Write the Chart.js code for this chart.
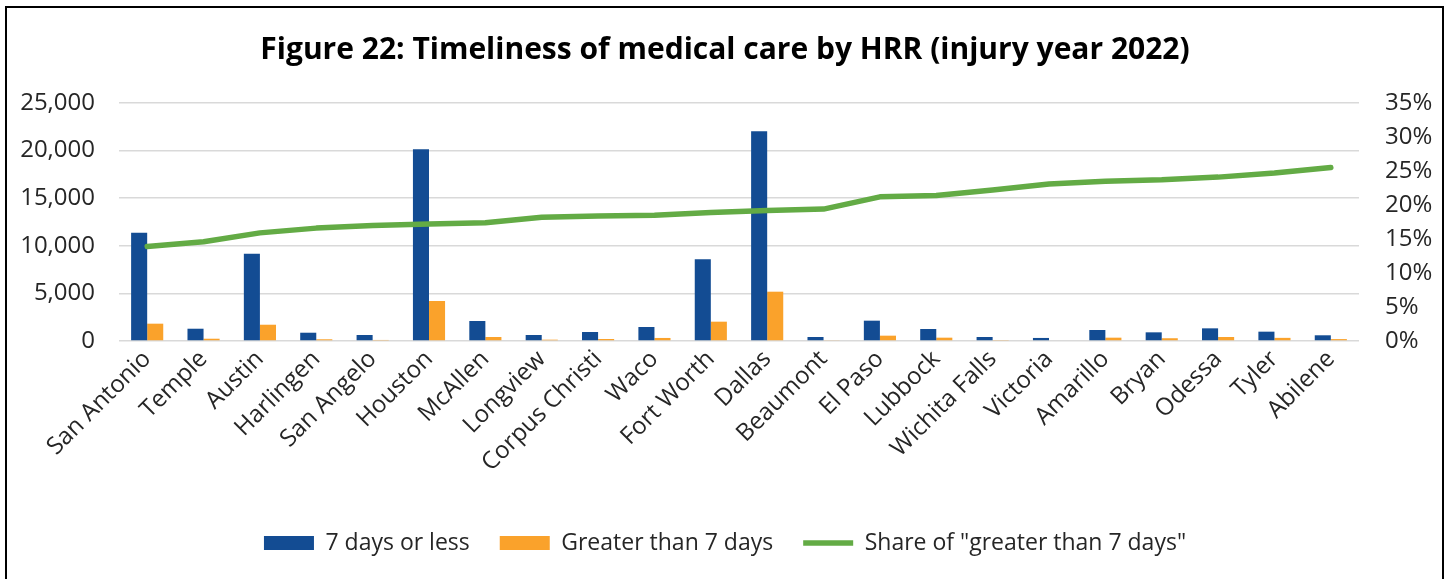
<!DOCTYPE html>
<html>
<head>
<meta charset="utf-8">
<script src="https://cdn.jsdelivr.net/npm/chart.js@4/dist/chart.umd.min.js"></script>
<style>
  html, body { margin: 0; padding: 0; background: #fff; overflow: hidden; }
  #wrap { position: relative; width: 1450px; height: 579px; }
  #frame { position: absolute; left: 5px; top: 6px; width: 1439px; height: 700px; border: 2px solid #000; box-sizing: border-box; pointer-events: none; }
  canvas { position: absolute; left: 0; top: 0; }
</style>
</head>
<body>
<div id="wrap">
  <canvas id="c" width="1450" height="579"></canvas>
  <div id="frame"></div>
</div>
<script>
const categories = ["San Antonio","Temple","Austin","Harlingen","San Angelo","Houston","McAllen","Longview","Corpus Christi","Waco","Fort Worth","Dallas","Beaumont","El Paso","Lubbock","Wichita Falls","Victoria","Amarillo","Bryan","Odessa","Tyler","Abilene"];
const sevenDaysOrLess = [11380,1290,9170,870,630,20130,2100,630,945,1470,8580,22020,420,2135,1260,420,320,1155,910,1330,980,600];
const greaterThan7Days = [1820,240,1710,180,110,4200,420,140,210,320,2030,5180,90,560,350,100,80,350,290,420,330,200];
const shareGreaterThan7 = [0.139,0.146,0.159,0.166,0.170,0.172,0.174,0.182,0.184,0.185,0.189,0.192,0.194,0.212,0.214,0.222,0.231,0.235,0.237,0.241,0.247,0.255];
const leftTicks = [0,5000,10000,15000,20000,25000];
const rightTicks = [0,0.05,0.10,0.15,0.20,0.25,0.30,0.35];

const FONT = "'Open Sans', 'Noto Sans', sans-serif";
const TICK_COLOR = '#262626';

new Chart(document.getElementById('c'), {
  data: {
    labels: categories,
    datasets: [
      { type: 'bar', label: '7 days or less', data: sevenDaysOrLess, backgroundColor: '#134C93', borderWidth: 0, yAxisID: 'y', order: 1,
        categoryPercentage: 0.57, barPercentage: 1.0 },
      { type: 'bar', label: 'Greater than 7 days', data: greaterThan7Days, backgroundColor: '#FAA22B', borderWidth: 0, yAxisID: 'y', order: 1,
        categoryPercentage: 0.57, barPercentage: 1.0 },
      { type: 'line', label: 'Share of "greater than 7 days"', data: shareGreaterThan7, borderColor: '#63AB45', backgroundColor: '#63AB45',
        borderWidth: 5.5, pointRadius: 0, pointHoverRadius: 0, tension: 0, yAxisID: 'y1', order: 0,
        borderCapStyle: 'round', borderJoinStyle: 'round' }
    ]
  },
  options: {
    responsive: false,
    animation: false,
    layout: { padding: { left: 0, right: 0, top: 0, bottom: 14.5 } },
    plugins: {
      tooltip: { enabled: false },
      title: {
        display: true,
        text: 'Figure 22: Timeliness of medical care by HRR (injury year 2022)',
        color: '#000',
        font: { family: FONT, size: 30, weight: 'bold', lineHeight: 1.2 },
        padding: { top: 32, bottom: 35 }
      },
      legend: {
        position: 'bottom',
        labels: {
          color: TICK_COLOR,
          font: { family: FONT, size: 23 },
          usePointStyle: true,
          pointStyleWidth: 50,
          boxHeight: 14,
          padding: 30,
          sort: (a, b) => a.datasetIndex - b.datasetIndex,
          generateLabels(chart) {
            const items = Chart.defaults.plugins.legend.labels.generateLabels(chart);
            items.forEach(it => {
              const ds = chart.data.datasets[it.datasetIndex];
              it.pointStyle = ds.type === 'line' ? 'line' : 'rect';
              if (ds.type !== 'line') it.lineWidth = 0;
            });
            return items;
          }
        }
      }
    },
    scales: {
      x: {
        grid: { display: false, drawTicks: false },
        border: { display: false },
        ticks: { color: TICK_COLOR, font: { family: FONT, size: 24 }, minRotation: 45, maxRotation: 45, padding: 4, autoSkip: false },
        afterFit(s) { s.height = 160.5; }
      },
      y: {
        position: 'left',
        min: 0, max: 25000,
        afterBuildTicks(s) { s.ticks = leftTicks.map(v => ({ value: v })); },
        grid: { color: '#D9D9D9', lineWidth: 1.5, drawTicks: false },
        border: { display: false },
        ticks: { color: TICK_COLOR, font: { family: FONT, size: 24 }, padding: 24,
          callback: v => v.toLocaleString('en-US') },
        afterFit(s) { s.width = 119; }
      },
      y1: {
        position: 'right',
        min: 0, max: 0.35,
        afterBuildTicks(s) { s.ticks = rightTicks.map(v => ({ value: v })); },
        grid: { drawOnChartArea: false, drawTicks: false },
        border: { display: false },
        ticks: { color: TICK_COLOR, font: { family: FONT, size: 24 }, padding: 26,
          callback: v => Math.round(v * 100) + '%' },
        afterFit(s) { s.width = 91; }
      }
    }
  }
});
</script>
</body>
</html>
